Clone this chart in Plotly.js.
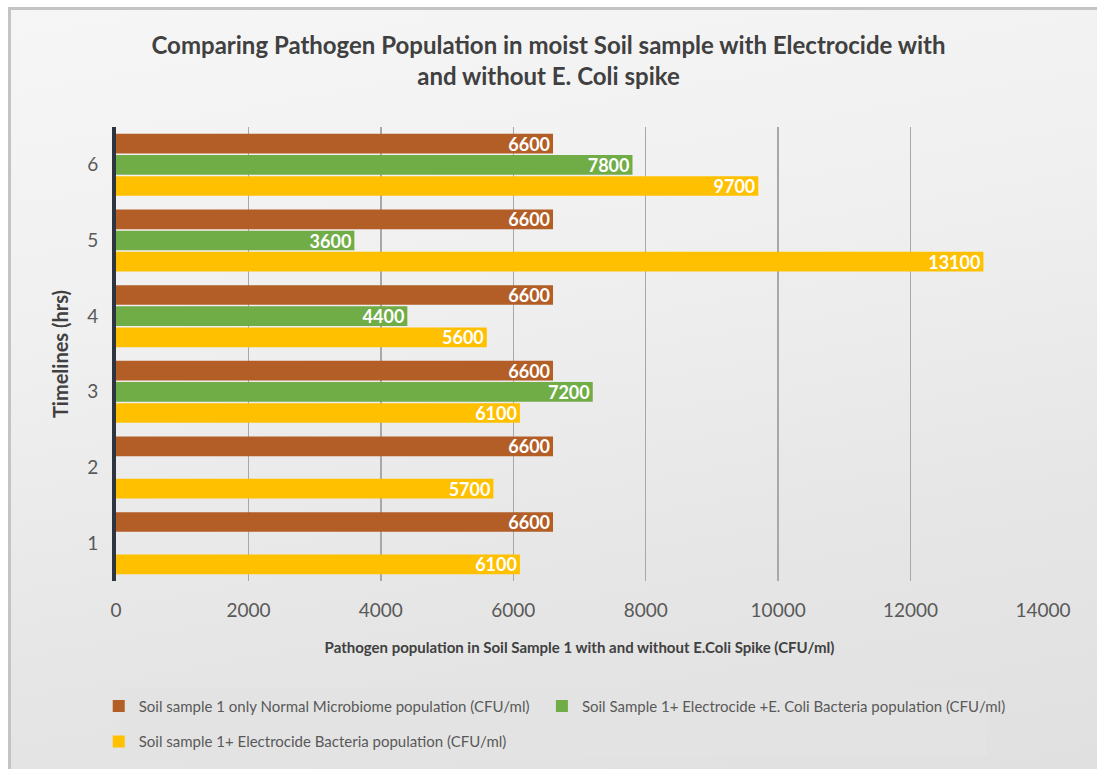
<!DOCTYPE html>
<html>
<head>
<meta charset="utf-8">
<script src="https://cdn.plot.ly/plotly-3.0.1.min.js"></script>
<style>
html,body{margin:0;padding:0;background:#ffffff;}
#wrap{position:relative;width:1097px;height:769px;}
#frame{position:absolute;left:8px;top:7px;width:1089px;height:762px;border-top:3px solid #c4c4c4;border-left:3px solid #c4c4c4;box-sizing:border-box;background:linear-gradient(170deg,#f6f6f6 0%,#f0f0f0 35%,#e6e6e6 70%,#e0e0e0 100%);}
#chart{position:absolute;left:0;top:0;width:1097px;height:769px;}
</style>
</head>
<body>
<div id="wrap"><div id="frame"></div><div id="chart"></div></div>
<script>
const timelines = ['1','2','3','4','5','6'];
const normalMicrobiome = [6600, 6600, 6600, 6600, 6600, 6600];
const electrocideEColi = [null, null, 7200, 4400, 3600, 7800];
const electrocideOnly = [6100, 5700, 6100, 5600, 13100, 9700];
const xTicks = [0, 2000, 4000, 6000, 8000, 10000, 12000, 14000];
const seriesNames = [
  'Soil sample 1 only Normal Microbiome population (CFU/ml)',
  'Soil Sample 1+ Electrocide +E. Coli Bacteria population (CFU/ml)',
  'Soil sample 1+ Electrocide Bacteria population (CFU/ml)'
];
const colors = ['#b35e26', '#70ad47', '#ffc000'];

function mk(vals, name, color, legend) {
  return {
    type: 'bar', orientation: 'h', y: timelines, x: vals, name: name,
    legend: legend,
    marker: {color: color},
    text: vals.map(v => v == null ? '' : String(v)),
    textposition: 'inside', insidetextanchor: 'end', constraintext: 'none',
    textfont: {color: '#ffffff', size: 18, family: 'Lato', weight: 'bold'},
    cliponaxis: false, hoverinfo: 'x+name'
  };
}
const traces = [
  mk(electrocideOnly, seriesNames[2], colors[2], 'legend2'),
  mk(electrocideEColi, seriesNames[1], colors[1], 'legend3'),
  mk(normalMicrobiome, seriesNames[0], colors[0], 'legend')
];
const legendFont = {size: 15, color: '#595959', family: 'Lato'};
function leg(x, y) {
  return {
    orientation: 'h', xref: 'container', yref: 'container',
    x: x, xanchor: 'left', y: y, yanchor: 'top',
    bgcolor: 'rgba(0,0,0,0)', font: legendFont, itemwidth: 30
  };
}
const layout = {
  width: 1097, height: 769,
  paper_bgcolor: 'rgba(0,0,0,0)', plot_bgcolor: 'rgba(0,0,0,0)',
  margin: {l: 116, r: 54, t: 127, b: 188},
  font: {family: 'Lato', color: '#595959'},
  title: {
    text: '<b>Comparing Pathogen Population in moist Soil sample with Electrocide with<br>and without E. Coli spike</b>',
    font: {size: 24, color: '#404040', family: 'Lato'},
    x: 0.5, xanchor: 'center', y: 0.93, yanchor: 'top'
  },
  barmode: 'group', bargap: 0.16, bargroupgap: 0.07,
  xaxis: {
    range: [0, 14000], tickvals: xTicks, ticktext: xTicks.map(String),
    showgrid: true, gridcolor: '#a8a8a8', gridwidth: 1.5,
    zeroline: false, showline: false, ticks: '',
    ticklabelstandoff: 16,
    tickfont: {size: 19, color: '#595959', family: 'Lato'},
    title: {text: '<b>Pathogen population in Soil Sample 1 with and without E.Coli Spike (CFU/ml)</b>', font: {size: 15, color: '#404040', family: 'Lato'}, standoff: 22}
  },
  yaxis: {
    type: 'category', range: [-0.5, 5.5],
    showline: true, linecolor: '#2e3440', linewidth: 4,
    ticks: '', showgrid: false, zeroline: false,
    tickfont: {size: 19, color: '#595959', family: 'Lato'},
    ticklabelstandoff: 10,
    title: {text: '<b>Timelines (hrs)</b>', font: {size: 20, color: '#404040', family: 'Lato'}, standoff: 14}
  },
  shapes: [{
    type: 'rect', xref: 'paper', yref: 'paper', layer: 'below',
    x0: 0.004, x1: 0.94, y0: -0.236, y1: -0.388,
    fillcolor: '#e3e3e3', line: {width: 0}
  }],
  legend: leg(0.09, 0.103),
  legend3: leg(0.494, 0.103),
  legend2: leg(0.09, 0.057),
  showlegend: true
};
Plotly.newPlot('chart', traces, layout, {displayModeBar: false, staticPlot: true});
</script>
</body>
</html>
